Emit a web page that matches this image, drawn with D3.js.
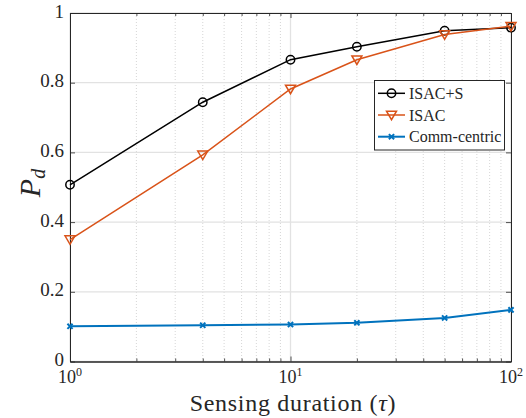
<!DOCTYPE html>
<html>
<head>
<meta charset="utf-8">
<script src="https://cdn.jsdelivr.net/npm/d3@7"></script>
</head>
<body style="margin:0; background:#fff">
<script>
// sensing durations (x axis, log scale)
var tau = [1, 4, 10, 20, 50, 100];
// detection probability per scheme
var isacS = [0.507, 0.744, 0.866, 0.903, 0.949, 0.958];
var isac = [0.350, 0.593, 0.782, 0.866, 0.938, 0.962];
var commCentric = [0.101, 0.104, 0.106, 0.111, 0.125, 0.148];
var seriesNames = ['ISAC+S', 'ISAC', 'Comm-centric'];
var yTicks = [0, 0.2, 0.4, 0.6, 0.8, 1];
var xDecades = [1, 10, 100];

var svgWidth = 526;
var svgHeight = 418;
var padLeft = 70, padRight = 511, padTop = 13, padBottom = 361.5;
var serif = 'Liberation Serif';
var ink = '#262626';

var svg = d3.select('body').append('svg')
    .attr('width', svgWidth)
    .attr('height', svgHeight)
    .attr('font-family', serif);

var xScale = d3.scaleLog().domain([1, 100]).range([padLeft, padRight]);
var yScale = d3.scaleLinear().domain([0, 1]).range([padBottom, padTop]);

// minor ticks 2..9 for each decade
var minor = [];
[1, 10].forEach(function(d) {
    for (var k = 2; k <= 9; k++) minor.push(d * k);
});

// grid
svg.append('g').selectAll('line')
    .data(minor).enter().append('line')
    .attr('x1', function(d) { return xScale(d); })
    .attr('x2', function(d) { return xScale(d); })
    .attr('y1', padTop).attr('y2', padBottom)
    .attr('stroke', '#c4c4c4').attr('stroke-width', 0.7)
    .attr('stroke-dasharray', '1,2');

svg.append('g').selectAll('line')
    .data(xDecades).enter().append('line')
    .attr('x1', function(d) { return xScale(d); })
    .attr('x2', function(d) { return xScale(d); })
    .attr('y1', padTop).attr('y2', padBottom)
    .attr('stroke', '#e2e2e2').attr('stroke-width', 1.3);

svg.append('g').selectAll('line')
    .data(yTicks).enter().append('line')
    .attr('x1', padLeft).attr('x2', padRight)
    .attr('y1', function(d) { return yScale(d); })
    .attr('y2', function(d) { return yScale(d); })
    .attr('stroke', '#e2e2e2').attr('stroke-width', 1.3);

// axes
var xAxis = d3.axisBottom(xScale).tickValues(xDecades).tickSizeInner(-5).tickSizeOuter(0).tickFormat('');
var xAxisTop = d3.axisTop(xScale).tickValues(xDecades).tickSizeInner(-5).tickSizeOuter(0).tickFormat('');
var xMinor = d3.axisBottom(xScale).tickValues(minor).tickSizeInner(-3).tickSizeOuter(0).tickFormat('');
var xMinorTop = d3.axisTop(xScale).tickValues(minor).tickSizeInner(-3).tickSizeOuter(0).tickFormat('');
var yAxis = d3.axisLeft(yScale).tickValues(yTicks).tickSizeInner(-5).tickSizeOuter(0).tickPadding(6)
    .tickFormat(function(d) { return d === 0 ? '0' : d === 1 ? '1' : d3.format('.1f')(d); });
var yAxisRight = d3.axisRight(yScale).tickValues(yTicks).tickSizeInner(-5).tickSizeOuter(0).tickFormat('');

svg.append('g').attr('transform', 'translate(0,' + padBottom + ')').call(xAxis);
svg.append('g').attr('transform', 'translate(0,' + padBottom + ')').call(xMinor);
svg.append('g').attr('transform', 'translate(0,' + padTop + ')').call(xAxisTop);
svg.append('g').attr('transform', 'translate(0,' + padTop + ')').call(xMinorTop);
var gy = svg.append('g').attr('transform', 'translate(' + padLeft + ',0)').call(yAxis);
svg.append('g').attr('transform', 'translate(' + padRight + ',0)').call(yAxisRight);

svg.selectAll('.domain').attr('stroke', ink).attr('stroke-width', 1);
svg.selectAll('.tick line').attr('stroke', ink).attr('stroke-width', 0.8);
gy.attr('font-family', serif).attr('font-size', 19);
gy.selectAll('.tick text')
    .attr('font-family', serif)
    .attr('dy', '0.22em')
    .attr('fill', ink);

// x tick labels 10^k
var xl = svg.append('g');
xDecades.forEach(function(d, i) {
    var t = xl.append('text')
        .attr('x', xScale(d))
        .attr('y', padBottom + 21.5)
        .attr('text-anchor', 'middle')
        .attr('font-family', serif)
        .attr('font-size', 18)
        .attr('fill', ink);
    t.append('tspan').text('10');
    t.append('tspan').attr('dy', -7).attr('font-size', 12).text(i);
});

// axis labels
svg.append('text')
    .attr('x', 293).attr('y', 411)
    .attr('text-anchor', 'middle')
    .attr('font-family', serif)
    .attr('font-size', 24)
    .attr('letter-spacing', 0.7)
    .attr('fill', ink)
    .html('Sensing duration (<tspan font-style="italic">τ</tspan>)');

var yl = svg.append('text')
    .attr('transform', 'translate(40,183) rotate(-90)')
    .attr('text-anchor', 'middle')
    .attr('font-family', serif)
    .attr('font-size', 30)
    .attr('font-style', 'italic')
    .attr('fill', ink);
yl.append('tspan').text('P');
yl.append('tspan').attr('dy', 5).attr('font-size', 20).text('d');

// series
var series = [
    { name: seriesNames[0], values: isacS, color: '#000000', marker: 'circle', width: 1.5 },
    { name: seriesNames[1], values: isac, color: '#D95319', marker: 'tri', width: 1.5 },
    { name: seriesNames[2], values: commCentric, color: '#0072BD', marker: 'x', width: 2 }
];

var line = d3.line()
    .x(function(d) { return xScale(d[0]); })
    .y(function(d) { return yScale(d[1]); });

function drawMarker(g, type, color, x, y) {
    if (type === 'circle') {
        g.append('circle').attr('cx', x).attr('cy', y).attr('r', 4.2)
            .attr('fill', 'none').attr('stroke', color).attr('stroke-width', 1.5);
    } else if (type === 'tri') {
        var s = 5;
        g.append('path')
            .attr('d', 'M' + (x - s) + ',' + (y - s * 0.75) + 'L' + (x + s) + ',' + (y - s * 0.75) + 'L' + x + ',' + (y + s * 0.95) + 'Z')
            .attr('fill', 'none').attr('stroke', color).attr('stroke-width', 1.5);
    } else {
        var h = 2.6;
        g.append('path')
            .attr('d', 'M' + (x - h) + ',' + (y - h) + 'L' + (x + h) + ',' + (y + h) + 'M' + (x - h) + ',' + (y + h) + 'L' + (x + h) + ',' + (y - h))
            .attr('stroke', color).attr('stroke-width', 2);
    }
}

series.forEach(function(s) {
    var pts = tau.map(function(t, i) { return [t, s.values[i]]; });
    svg.append('path')
        .datum(pts)
        .attr('d', line)
        .attr('fill', 'none')
        .attr('stroke', s.color)
        .attr('stroke-width', s.width);
    var g = svg.append('g');
    pts.forEach(function(p) {
        drawMarker(g, s.marker, s.color, xScale(p[0]), yScale(p[1]));
    });
});

// legend
var lg = svg.append('g');
lg.append('rect')
    .attr('x', 374.5).attr('y', 80.5)
    .attr('width', 130).attr('height', 69.5)
    .attr('fill', '#fff').attr('stroke', ink).attr('stroke-width', 1);
series.forEach(function(s, i) {
    var y = 93.3 + i * 21.7;
    lg.append('line').attr('x1', 378).attr('x2', 405).attr('y1', y).attr('y2', y)
        .attr('stroke', s.color).attr('stroke-width', s.width);
    drawMarker(lg, s.marker, s.color, 391.5, y);
    lg.append('text').attr('x', 409).attr('y', y + 5.5)
        .attr('font-family', serif)
        .attr('font-size', 16)
        .attr('fill', ink)
        .text(s.name);
});
</script>
</body>
</html>
